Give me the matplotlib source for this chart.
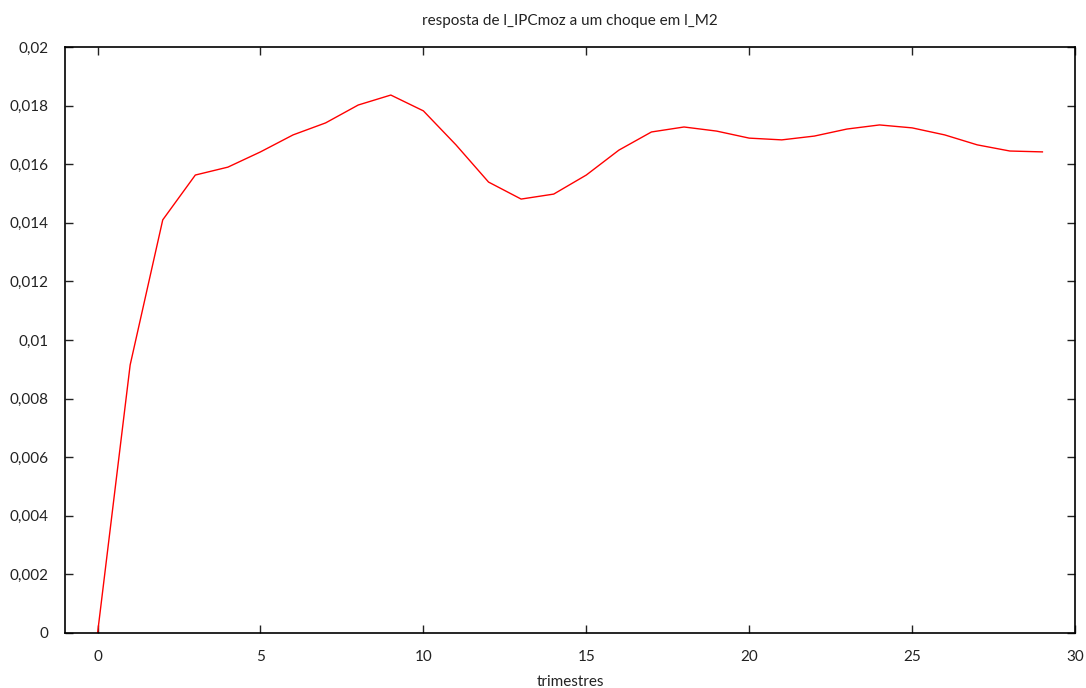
import matplotlib
matplotlib.use('Agg')
import matplotlib.pyplot as plt
from matplotlib.ticker import FuncFormatter

plt.rcParams['font.family'] = ['Lato', 'DejaVu Sans']

# response of l_IPCmoz to a shock in l_M2, by quarter
periods = list(range(30))
response = [0.0, 0.00915, 0.0141, 0.01563, 0.0159, 0.01642, 0.0170, 0.01741,
            0.01802, 0.01836, 0.01782, 0.01666, 0.01539, 0.01481, 0.01498,
            0.01563, 0.01648, 0.0171, 0.01727, 0.01713, 0.01689, 0.01683,
            0.01696, 0.0172, 0.01734, 0.01724, 0.0170, 0.01666, 0.01645, 0.01642]

title = 'resposta de l_IPCmoz a um choque em l_M2'
xlabel = 'trimestres'

fig = plt.figure(figsize=(10.86, 6.88), dpi=100)
ax = fig.add_axes([65/1086, 1 - 633/688, 1010/1086, 586/688])

ax.plot(periods, response, color='#ff0000', lw=1.0)

ax.set_xlim(-1, 30)
ax.set_ylim(0, 0.02)
ax.set_xticks([0, 5, 10, 15, 20, 25, 30])
ax.set_yticks([0, 0.002, 0.004, 0.006, 0.008, 0.01, 0.012, 0.014, 0.016, 0.018, 0.02])

def fmt(v, pos):
    if abs(v) < 1e-12:
        return '0'
    s = ('%.3f' % v).rstrip('0').rstrip('.')
    return s.replace('.', ',')

ax.yaxis.set_major_formatter(FuncFormatter(fmt))
ax.tick_params(direction='in', top=True, right=True, length=6, width=1,
               labelsize=11, colors='#222222')
ax.tick_params(axis='x', pad=12)
ax.tick_params(axis='y', pad=12)
for sp in ax.spines.values():
    sp.set_linewidth(1.2)

ax.set_title(title, fontsize=11, pad=16, color='#222222')
ax.set_xlabel(xlabel, fontsize=11, labelpad=8, color='#222222')

plt.savefig('out.png', dpi=100)
